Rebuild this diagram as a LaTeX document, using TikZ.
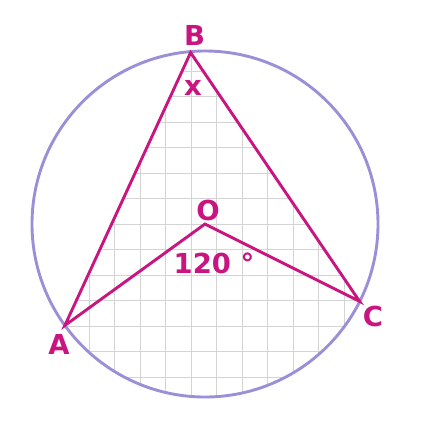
\documentclass[tikz,border=0pt]{standalone}
\usepackage{fontspec}
\setmainfont{DejaVu Sans}
\usetikzlibrary{calc}
\definecolor{mag}{HTML}{C8157F}
\definecolor{lav}{HTML}{9C8FD8}
\definecolor{gridgray}{HTML}{D4D4D4}
\begin{document}
\begin{tikzpicture}[x=1pt,y=-1pt,
  lbl/.style={text=mag,font=\fontsize{27.5}{32}\selectfont\bfseries,inner sep=0pt,anchor=center},
  gridline/.style={draw=gridgray,line width=0.9pt},
  edge/.style={draw=mag,line width=2.9pt,line join=miter},
  rim/.style={draw=lav,line width=2.9pt}]
\useasboundingbox (0,0) rectangle (427,424);
\coordinate (O) at (205,224);
\coordinate (A) at ($(O)+(144.1:173)$);
\coordinate (B) at ($(O)+(265.2:172)$);
\coordinate (C) at ($(O)+(26.6:173)$);
\begin{scope}
  \clip (A) -- (B) -- (C) arc[start angle=26.6,end angle=144.1,radius=173] -- cycle;
  \foreach \i in {-3,...,12} {
    \draw[gridline] ({89.3+25.5*\i},0) -- ({89.3+25.5*\i},424);
    \draw[gridline] (0,{71.2+25.5*\i}) -- (427,{71.2+25.5*\i});
  }
\end{scope}
\draw[rim] (O) circle[radius=173];
\draw[edge] (A) -- (B) -- (C) -- (O) -- cycle;
\node[lbl] (lB) at (194.5,35.5) {B};
\node[lbl] (lx) at (193,88) {x};
\node[lbl] (lO) at (208,210) {O};
\node[lbl] (l120) at (214,263.5) {120 °};
\node[lbl] (lC) at (373,316) {C};
\node[lbl] (lA) at (59,344) {A};
\end{tikzpicture}
\end{document}
